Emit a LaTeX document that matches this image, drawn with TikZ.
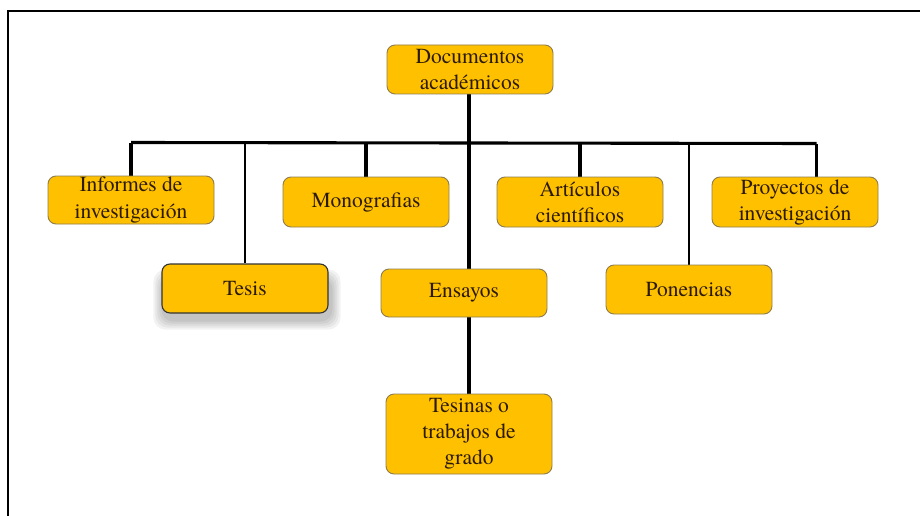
\documentclass[tikz,border=0pt]{standalone}
\usepackage{fontspec}
\setmainfont{texgyretermes-regular.otf}
\usetikzlibrary{backgrounds}
\definecolor{boxfill}{HTML}{FFC000}
\definecolor{boxline}{HTML}{8C7C4E}
\definecolor{txt}{HTML}{2B1A05}
\begin{document}
\begin{tikzpicture}[x=1pt,y=-1pt,
  box/.style={draw=boxline,line width=0.9pt,fill=boxfill,rounded corners=8pt,
    minimum width=166pt,inner sep=0pt,align=center,text=txt,
    font=\rmfamily\fontsize{21.5}{26}\selectfont},
  conn/.style={line width=3.1pt,black},
  thinconn/.style={line width=2.5pt,black},
  shade/.style={fill=black,opacity=0.05,rounded corners=12pt}]
\useasboundingbox (0,0) rectangle (920,516);
\draw[line width=1.6pt] (8,516) -- (8,11) -- (920,11);
% nodes
\node[box,minimum height=49pt] (doc) at (470,69.5) {Documentos\\académicos};
\node[box,minimum height=48pt] (inf) at (131,200) {Informes de\\investigación};
\node[box,minimum height=50pt] (mon) at (366,202) {Monografias};
\node[box,minimum height=50pt] (art) at (580,202) {Artículos\\científicos};
\node[box,minimum height=50pt] (pro) at (795,202) {Proyectos de\\investigación};
\node[box,minimum height=49pt,draw=black!80,line width=1.1pt] (tes) at (245,288.5) {Tesis};
\node[box,minimum height=48pt] (ens) at (464,293) {Ensayos};
\node[box,minimum height=49pt] (pon) at (689,289.5) {Ponencias};
\node[box,minimum height=80pt] (tsn) at (469,434) {Tesinas o\\trabajos de\\grado};
\begin{pgfonlayer}{background}
% soft shadow of Tesis
\foreach \d in {2,4,6,8,10}
  \fill[shade] ([xshift=-\d pt+2pt,yshift=-\d pt-6pt]tes.south west) rectangle ([xshift=\d pt+2pt,yshift=\d pt-16pt]tes.north east);
% bus
\coordinate (busL) at (131,142.5);
\coordinate (busR) at (816.5,143.5);
\draw[conn] (busL) -- (busR);
\draw[conn] (inf.north -| busL) -- (busL);
\draw[conn] (doc.south -| 469,0) -- (tsn.north -| 469,0);
\draw[thinconn] (tes.north) -- (tes.north |- busL);
\draw[conn] (mon.north) -- (mon.north |- busL);
\draw[conn] (art.north) -- (art.north |- busL);
\draw[thinconn] (pon.north) -- (pon.north |- busL);
\draw[conn] (pro.north -| busR) -- (busR);
\end{pgfonlayer}
\end{tikzpicture}
\end{document}
